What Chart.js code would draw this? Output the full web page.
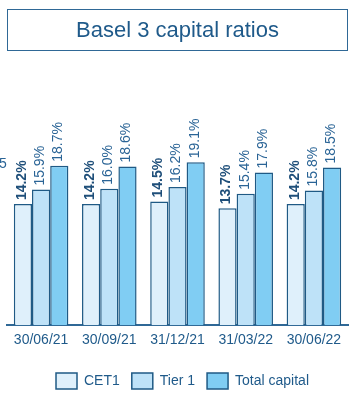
<!DOCTYPE html>
<html>
<head>
<meta charset="utf-8">
<script src="https://cdn.jsdelivr.net/npm/chart.js@4/dist/chart.umd.min.js"></script>
<style>
  html, body { margin: 0; padding: 0; background: #fff; }
  body { width: 355px; height: 400px; position: relative; overflow: hidden; font-family: "Liberation Sans", Arial, sans-serif; }
  #title { position: absolute; left: 7px; top: 9px; width: 339px; height: 40px; border: 1.5px solid #2f6896; color: #1f5a8a; font-size: 22px; line-height: 40px; text-align: center; }
  #frag { position: absolute; left: -1px; top: 156px; font-size: 14px; line-height: 14px; color: #2a6496; }
  #wrap { position: absolute; left: 0; top: 0; width: 355px; height: 400px; }
</style>
</head>
<body>
<div id="wrap"><canvas id="c" width="355" height="400"></canvas></div>
<div id="title">Basel 3 capital ratios</div>
<div id="frag">5</div>
<script>
const categories = ["30/06/21", "30/09/21", "31/12/21", "31/03/22", "30/06/22"];
const cet1 = [14.2, 14.2, 14.5, 13.7, 14.2];
const tier1 = [15.9, 16.0, 16.2, 15.4, 15.8];
const totalCapital = [18.7, 18.6, 19.1, 17.9, 18.5];
const seriesNames = ["CET1", "Tier 1", "Total capital"];

const dark = "#1f5a85";
const textCol = "#1f5a8a";

const labelPlugin = {
  id: "barLabels",
  afterLayout(chart) {
    if (chart.legend) { chart.legend.left += 5; chart.legend.right += 5; }
  },
  afterDatasetsDraw(chart) {
    const ctx = chart.ctx;
    chart.data.datasets.forEach((ds, di) => {
      const meta = chart.getDatasetMeta(di);
      meta.data.forEach((bar, i) => {
        const v = ds.data[i];
        ctx.save();
        ctx.translate(bar.x - 1, bar.y - 4);
        ctx.rotate(-Math.PI / 2);
        ctx.font = (di === 0 ? "bold " : "") + "14px 'Liberation Sans', Arial, sans-serif";
        ctx.fillStyle = di === 0 ? "#1f4f7a" : "#2a6496";
        ctx.textAlign = "left";
        ctx.textBaseline = "middle";
        ctx.fillText(v.toFixed(1) + "%", 0, 0);
        ctx.restore();
      });
    });
  }
};

new Chart(document.getElementById("c"), {
  type: "bar",
  data: {
    labels: categories,
    datasets: [
      { label: seriesNames[0], data: cet1, backgroundColor: "#dff0fb", borderColor: dark, borderWidth: 1.5 },
      { label: seriesNames[1], data: tier1, backgroundColor: "#bee2f8", borderColor: dark, borderWidth: 1.5 },
      { label: seriesNames[2], data: totalCapital, backgroundColor: "#80cdf3", borderColor: dark, borderWidth: 1.5 }
    ]
  },
  options: {
    responsive: false,
    animation: false,
    devicePixelRatio: 1,
    layout: { padding: { left: 7, right: 7, top: 112, bottom: 1 } },
    datasets: { bar: { categoryPercentage: 0.8, barPercentage: 1.0 } },
    scales: {
      x: {
        grid: { display: false, drawTicks: false },
        border: { display: true, color: "#2f6896", width: 2 },
        ticks: { color: textCol, font: { size: 14, family: "'Liberation Sans', Arial, sans-serif" }, padding: 7, maxRotation: 0 },
        afterFit(scale) { scale.height += 5; }
      },
      y: { display: false, min: 0, max: 25 }
    },
    plugins: {
      legend: {
        position: "bottom",
        labels: {
          boxWidth: 21, boxHeight: 16, padding: 12,
          color: textCol,
          font: { size: 14, family: "'Liberation Sans', Arial, sans-serif" }
        }
      },
      tooltip: { enabled: false }
    }
  },
  plugins: [labelPlugin]
});
</script>
</body>
</html>
